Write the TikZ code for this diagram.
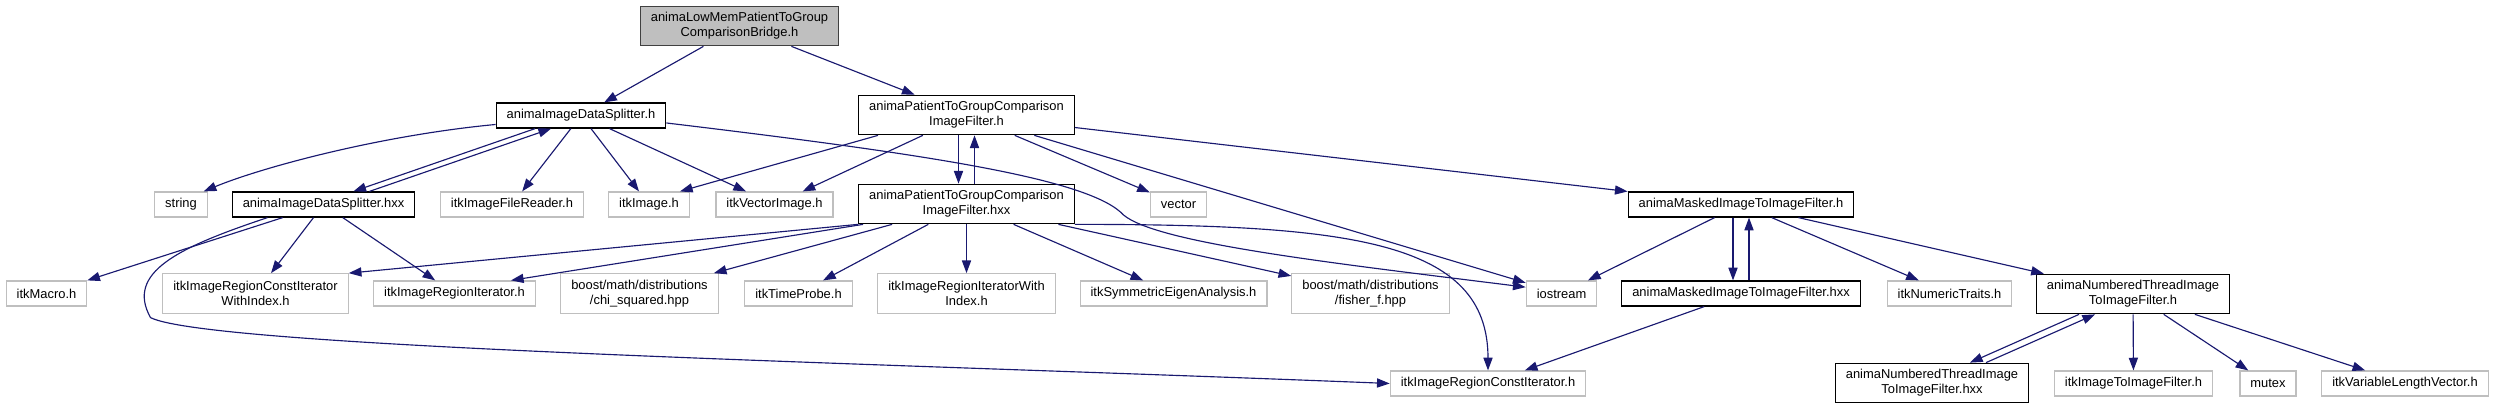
\documentclass[tikz,border=0pt]{standalone}
\usepackage{fontspec}
\setmainfont{Liberation Sans}
\usepackage{tikz}
\usetikzlibrary{arrows.meta}
\definecolor{inclblue}{HTML}{191970}
\definecolor{extgrey}{HTML}{BFBFBF}
\definecolor{rootfill}{HTML}{BFBFBF}
\definecolor{rootline}{HTML}{404040}

\begin{document}
\begin{tikzpicture}[x=0.02cm,y=-0.02cm,font=\fontsize{7.35}{8.5}\selectfont,
  file/.style={draw=black,line width=0.7pt,fill=white,inner xsep=0.21cm,inner ysep=0pt,minimum height=0.5cm,align=center},
  extfile/.style={file,draw=extgrey},
  rootfile/.style={file,draw=rootline,fill=rootfill},
  tall/.style={minimum height=0.79cm},
  incl/.style={draw=inclblue,line width=0.65pt,-{Triangle[length=7.2pt,width=5.2pt]}}]
  \useasboundingbox (0,0) rectangle (2495,409);

  \node[rootfile,tall] (bridge) at (739.5,26) {animaLowMemPatientToGroup\\ComparisonBridge.h};
  \node[file] (ds) at (581,115.5) {animaImageDataSplitter.h};
  \node[file,tall] (pf) at (966.5,115) {animaPatientToGroupComparison\\ImageFilter.h};

  \node[extfile] (str) at (181,204.5) {string};
  \node[file] (dsx) at (323.5,204.5) {animaImageDataSplitter.hxx};
  \node[extfile] (reader) at (512,204.5) {itkImageFileReader.h};
  \node[extfile] (img) at (649,204.5) {itkImage.h};
  \node[extfile] (vimg) at (774.5,204.5) {itkVectorImage.h};
  \node[file,tall] (pfx) at (966.5,204) {animaPatientToGroupComparison\\ImageFilter.hxx};
  \node[extfile] (vec) at (1178.5,204.5) {vector};
  \node[file] (mf) at (1741,204.5) {animaMaskedImageToImageFilter.h};

  \node[extfile] (macro) at (46.5,293.5) {itkMacro.h};
  \node[extfile,tall] (rciwi) at (255.5,293.5) {itkImageRegionConstIterator\\WithIndex.h};
  \node[extfile] (rit) at (454.5,293.5) {itkImageRegionIterator.h};
  \node[extfile,tall] (chi) at (639.5,293.5) {boost/math/distributions\\/chi\_squared.hpp};
  \node[extfile] (probe) at (798.5,293.5) {itkTimeProbe.h};
  \node[extfile,tall] (riwi) at (966.5,293.5) {itkImageRegionIteratorWith\\Index.h};
  \node[extfile] (eigen) at (1173.5,293.5) {itkSymmetricEigenAnalysis.h};
  \node[extfile,tall] (fisher) at (1370.5,293.5) {boost/math/distributions\\/fisher\_f.hpp};
  \node[extfile] (ios) at (1561.5,293.5) {iostream};
  \node[file] (mfx) at (1741,293.5) {animaMaskedImageToImageFilter.hxx};
  \node[extfile] (traits) at (1949.5,293.5) {itkNumericTraits.h};
  \node[file,tall] (nt) at (2133,294) {animaNumberedThreadImage\\ToImageFilter.h};

  \node[extfile] (rci) at (1488,383.5) {itkImageRegionConstIterator.h};
  \node[file,tall] (ntx) at (1932,383) {animaNumberedThreadImage\\ToImageFilter.hxx};
  \node[extfile] (i2i) at (2133.5,383.5) {itkImageToImageFilter.h};
  \node[extfile] (mutex) at (2268,383.5) {mutex};
  \node[extfile] (vlv) at (2405,383.5) {itkVariableLengthVector.h};

  \draw[incl] (bridge) -- (ds);
  \draw[incl] (bridge) -- (pf);

  \draw[incl] (ds.-174) .. controls +(-116,11) and +(58,-24) .. (str.30);
  \draw[incl,transform canvas={xshift=-0.16cm}] (ds) -- (dsx);
  \draw[incl,transform canvas={xshift=0.16cm}] (dsx) -- (ds);
  \draw[incl] (ds) -- (reader);
  \draw[incl] (ds) -- (img);
  \draw[incl] (ds) -- (vimg);
  \draw[incl] (ds.-5) .. controls +(250,30) and +(-40,-35) .. ++(454,89)
    .. controls +(25,30) and +(-200,-25) .. (ios.170);

  \draw[incl] ([xshift=-1.77cm]pf.south) -- ([xshift=0.62cm]img.north);
  \draw[incl] (pf) -- (vimg);
  \draw[incl,transform canvas={xshift=-0.16cm}] (pf) -- (pfx);
  \draw[incl,transform canvas={xshift=0.16cm}] (pfx) -- (pf);
  \draw[incl] (pf) -- (vec);
  \draw[incl] (pf) -- (ios);
  \draw[incl] (pf) -- (mf);

  \draw[incl] (dsx) -- (macro);
  \draw[incl] (dsx) -- (rciwi);
  \draw[incl] (dsx) -- (rit);
  \draw[incl] ([xshift=-1.12cm]dsx.south) .. controls +(-90,30) and +(-25,-45) .. ++(-117,100)
    .. controls +(60,30) and +(-500,-20) .. (rci.west);

  \draw[incl] (pfx.south west) -- (rciwi.north east);
  \draw[incl] ([xshift=0.1cm]pfx.south west) -- ([xshift=-0.5cm]rit.north east);
  \draw[incl] (pfx) -- (chi);
  \draw[incl] (pfx) -- (probe);
  \draw[incl] (pfx) -- (riwi);
  \draw[incl] (pfx) -- (eigen);
  \draw[incl] (pfx) -- (fisher);
  \draw[incl] (pfx.south east) .. controls +(275,0) and +(0,-130) .. (rci.north);

  \draw[incl] (mf) -- (ios);
  \draw[incl,transform canvas={xshift=-0.16cm}] (mf) -- (mfx);
  \draw[incl,transform canvas={xshift=0.16cm}] (mfx) -- (mf);
  \draw[incl] (mf) -- (traits);
  \draw[incl] (mf) -- (nt);
  \draw[incl] (mfx) -- (rci);

  \draw[incl,transform canvas={xshift=-0.16cm}] (nt) -- (ntx);
  \draw[incl,transform canvas={xshift=0.16cm}] (ntx) -- (nt);
  \draw[incl] (nt) -- (i2i);
  \draw[incl] (nt) -- (mutex);
  \draw[incl] (nt) -- (vlv);
\end{tikzpicture}
\end{document}
